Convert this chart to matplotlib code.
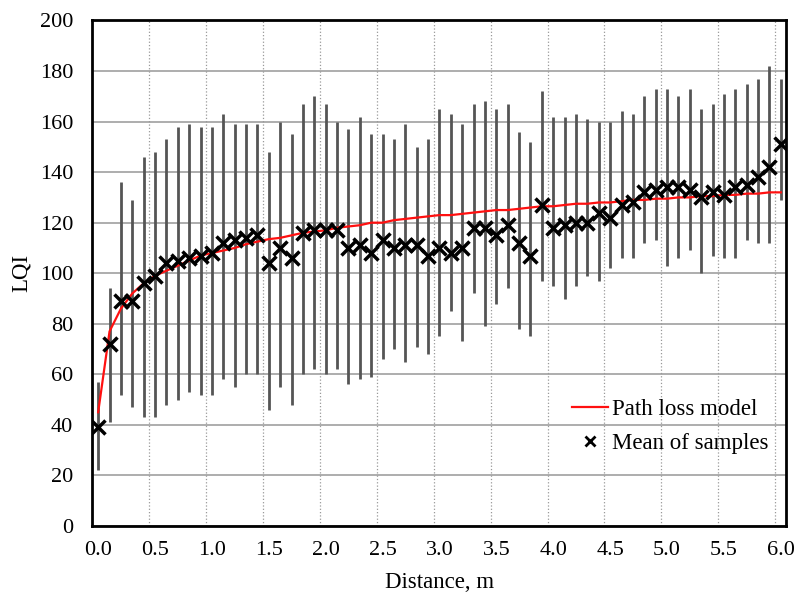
import matplotlib
matplotlib.use("Agg")
import matplotlib.pyplot as plt
import numpy as np

plt.rcParams['font.family'] = ['Liberation Serif', 'DejaVu Serif']

# Distance categories, m
distance = [round(0.1 * i, 1) for i in range(61)]

# LQI statistics
lqi_mean = [39, 72, 89, 89, 96, 99, 104, 105, 106, 107,
            108, 112, 113, 114, 115, 104, 110, 106, 116, 117,
            117, 117, 110, 111, 108, 113, 110, 111, 111, 107,
            110, 108, 110, 118, 118, 115, 119, 112, 107, 127,
            118, 119, 120, 120, 124, 122, 127, 128, 132, 133,
            134, 134, 133, 130, 132, 131, 134, 135, 138, 142,
            151]
lqi_max = [57, 94, 136, 129, 146, 148, 153, 158, 159, 158,
           158, 163, 159, 159, 159, 148, 160, 155, 167, 170,
           167, 160, 157, 162, 155, 155, 153, 159, 150, 153,
           165, 163, 159, 167, 168, 165, 167, 156, 152, 172,
           162, 162, 163, 161, 160, 160, 164, 163, 170, 173,
           173, 170, 173, 165, 167, 171, 173, 175, 177, 182,
           177]
lqi_min = [22, 41, 52, 47, 43, 43, 48, 50, 53, 52,
           52, 58, 55, 60, 60, 46, 55, 48, 60, 62,
           60, 62, 56, 58, 59, 66, 70, 65, 71, 68,
           75, 85, 73, 92, 79, 88, 94, 78, 75, 97,
           95, 90, 95, 99, 97, 102, 106, 106, 112, 113,
           103, 106, 109, 100, 107, 106, 106, 113, 112, 112,
           129]
model = [45, 77, 86, 92, 96, 99, 101, 103, 105, 107,
         108, 109, 110, 111.5, 112.5, 113.5, 114, 115, 116, 116.5,
         117, 118, 118.5, 119, 120, 120, 121, 121.5, 122, 122.5,
         123, 123, 123.5, 124, 124.5, 125, 125, 125.5, 126, 126.5,
         126.5, 127, 127.5, 127.5, 128, 128, 128.5, 129, 129, 129.5,
         129.5, 130, 130, 130.5, 130.5, 131, 131, 131.5, 131.5, 132,
         132]

tick_labels = ["%.1f" % v for v in np.arange(0, 6.01, 0.5)]

fig = plt.figure(figsize=(8, 5.94), dpi=100)
ax = fig.add_axes([0.1156, 0.1145, 0.8675, 0.851])

ax.vlines(distance, lqi_min, lqi_max, color='#555555', linewidth=2, zorder=2)
ax.plot(distance, model, color='#ff1010', linewidth=1.6, zorder=3,
        label='Path loss model')
ax.plot(distance, lqi_mean, linestyle='none', marker='x', color='black',
        markersize=9.5, markeredgewidth=2.5, zorder=4, label='Mean of samples')

ax.set_xlim(-0.05, 6.05)
ax.set_ylim(0, 200)
ax.set_xticks(np.arange(0, 6.01, 0.5))
ax.set_xticklabels(tick_labels)
ax.set_yticks(range(0, 201, 20))
ax.tick_params(length=0, labelsize=16)
ax.tick_params(axis='x', pad=11)
ax.tick_params(axis='y', pad=14)

ax.yaxis.grid(True, color='#a0a0a0', linewidth=1.2)
for gx in np.arange(0.45, 6.0, 0.5):
    ax.axvline(gx, color='#999999', linewidth=0.9, linestyle=':', zorder=1)
ax.set_axisbelow(True)

for s in ax.spines.values():
    s.set_linewidth(2)
    s.set_color('black')

ax.set_xlabel('Distance, m', fontsize=16.5)
ax.set_ylabel('LQI', fontsize=16.5)
ax.xaxis.set_label_coords(0.5, -0.091)
ax.yaxis.set_label_coords(-0.088, 0.5)

leg = ax.legend(loc='lower right', bbox_to_anchor=(1.004, 0.101), frameon=False,
                fontsize=16.5, handlelength=1.55, labelspacing=0.58,
                handletextpad=0.2)
leg.legend_handles[1].set_markersize(7)
leg.legend_handles[1].set_markeredgewidth(2)

fig.savefig('out.png', dpi=100)
